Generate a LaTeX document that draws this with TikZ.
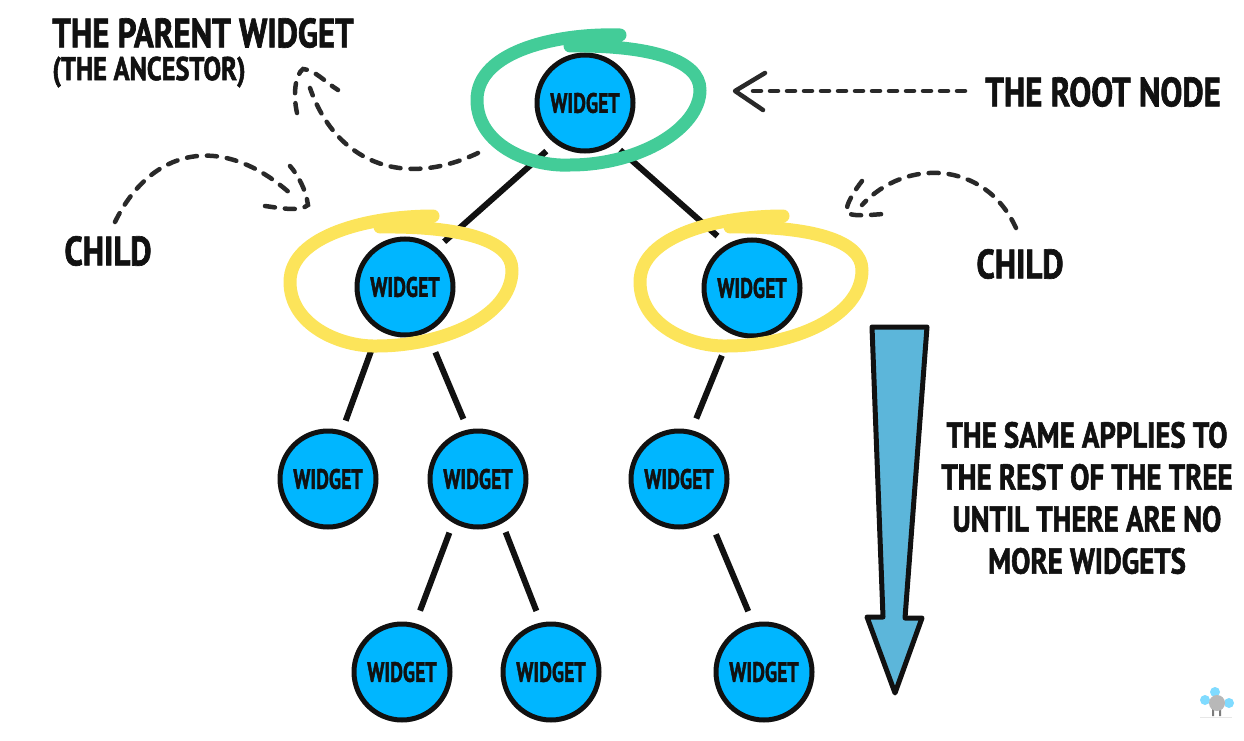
\documentclass[tikz,border=0pt]{standalone}
\usepackage{fontspec}
\setmainfont{PT Sans}
\newfontfamily\handfont[FakeStretch=0.8,BoldFeatures={FakeBold=1.6}]{PT Sans}
\newfontfamily\widgetfont[FakeStretch=0.71,BoldFeatures={FakeBold=1.4}]{PT Sans}
\usetikzlibrary{arrows.meta}

\definecolor{widgetblue}{HTML}{00B6FF}
\definecolor{ringgreen}{HTML}{43CC98}
\definecolor{ringyellow}{HTML}{FCE45A}
\definecolor{arrowblue}{HTML}{5CB6DA}
\definecolor{inkblack}{HTML}{111111}

\begin{document}
\begin{tikzpicture}[x=1pt,y=-1pt,
              widget/.style={circle,draw=inkblack,line width=5pt,fill=widgetblue,
              minimum size=96pt,inner sep=0pt,outer sep=0pt,text=inkblack,
              font=\widgetfont\bfseries\fontsize{28}{28}\selectfont},
              label/.style={text=inkblack,inner sep=0pt,align=center,
              font=\handfont\bfseries\fontsize{41}{42}\selectfont},
              small label/.style={label,font=\handfont\bfseries\fontsize{33}{33}\selectfont},
              branch/.style={draw=inkblack,line width=6pt},
              pointer/.style={draw=inkblack!90,line width=4.5pt,line cap=round,
              dash pattern=on 10pt off 10pt},
              tipline/.style={draw=inkblack!90,line width=4.5pt,line cap=round,line join=round},
              ring/.style={line width=13pt,line cap=round,line join=round}]
    \useasboundingbox (0,0) rectangle (1244,741);

    \node[widget] (root) at (585,103) {WIDGET};
    \node[widget] (left) at (405,287) {WIDGET};
    \node[widget] (right) at (752,288) {WIDGET};
    \node[widget] (leftA) at (328,479) {WIDGET};
    \node[widget] (leftB) at (478,479) {WIDGET};
    \node[widget] (rightA) at (679,479) {WIDGET};
    \node[widget] (leafA) at (402,672) {WIDGET};
    \node[widget] (leafB) at (551,672) {WIDGET};
    \node[widget] (leafC) at (764,672) {WIDGET};

    \node[label] (parent) at (203,33) {THE PARENT WIDGET};
    \node[small label] (ancestor) at (149,72) {(THE ANCESTOR)};
    \node[label] (rootnote) at (1103,92) {THE ROOT NODE};
    \node[label] (childL) at (108,251) {CHILD};
    \node[label] (childR) at (1020,264) {CHILD};
    \node[small label,font=\handfont\bfseries\fontsize{36}{42}\selectfont] (rest) at (1087,498)
        {THE SAME APPLIES TO\\THE REST OF THE TREE\\UNTIL THERE ARE NO\\MORE WIDGETS};

    % branches
    \draw[branch,shorten <=14pt,shorten >=12pt] (root.234) -- (left.51);
    \draw[branch,shorten <=11pt,shorten >=15pt] (root.304) -- (right.119);
    \draw[branch,shorten <=14pt,shorten >=13pt] (left.238) -- (leftA.74);
    \draw[branch,shorten <=24pt,shorten >=14pt] (left.296) -- (leftB.101);
    \draw[branch,shorten <=26pt,shorten >=15pt] (right.245) -- (rightA.76);
    \draw[branch,shorten <=13pt,shorten >=16pt] (leftB.240) -- (leafA.75);
    \draw[branch,shorten <=12pt,shorten >=15pt] (leftB.299) -- (leafB.101);
    \draw[branch,shorten <=19pt,shorten >=15pt] (rightA.308) -- (leafC.102);

    % rings
    \draw[ring,ringgreen] (620,35) .. controls (560,33) and (477,50) .. (477,100)
        .. controls (477,145) and (530,167) .. (570,165)
        .. controls (640,165) and (700,128) .. (700,90)
        .. controls (700,60) and (650,45) .. (570,46);
    \foreach \ringx in {0,-350}
        \draw[ring,ringyellow,xshift=\ringx] (783,216) .. controls (720,216) and (640,235) .. (640,282)
            .. controls (640,325) and (690,347) .. (727,346)
            .. controls (790,346) and (862,318) .. (862,270)
            .. controls (862,240) and (810,226) .. (730,227);

    % pointers
    \coordinate (parentstart) at (478,153);
    \coordinate (parenttip) at (310,88);
    \draw[pointer] (parentstart) .. controls (400,190) and (335,160) .. (parenttip);
    \draw[pointer] (297,113) .. controls (293,95) and (295,75) .. (303,69) .. controls (315,70) and (325,82) .. (338,90);

    \coordinate (childLstart) at (115,222);
    \coordinate (childLtip) at (292,195);
    \draw[pointer] (childLstart) .. controls (150,150) and (220,130) .. (childLtip);
    \draw[pointer] (265,206) .. controls (280,208) and (300,212) .. (308,205) .. controls (306,190) and (298,175) .. (290,166);

    \coordinate (childRstart) at (1016,228);
    \coordinate (childRtip) at (862,205);
    \draw[pointer] (childRstart) .. controls (985,160) and (905,158) .. (childRtip);
    \draw[pointer] (862,181) .. controls (855,190) and (845,205) .. (847,212) .. controls (850,217) and (870,215) .. (883,214);

    \coordinate (rootstart) at (965,91);
    \coordinate (roottip) at (753,91);
    \draw[pointer,dash pattern=on 8pt off 9pt] (rootstart) -- (roottip);
    \draw[tipline] (765,73) -- (735,91) -- (763,110);

    % big arrow
    \draw[draw=inkblack,fill=arrowblue,line width=5pt,line join=round]
        (872,327) -- (927,327) -- (905,618) -- (922,618) -- (895,693) -- (867,617) -- (883,617) -- cycle;

    % mascot
    \fill[inkblack!10] (1200,717) rectangle (1232,718);
    \fill[inkblack!55] (1212,709) rectangle (1214,716) (1219,709) rectangle (1221,716);
    \fill[widgetblue!50] (1205,700) circle (5pt) (1215,692) circle (5pt) (1229,703) circle (5pt);
    \fill[inkblack!30] (1217,703) circle (8pt);
\end{tikzpicture}
\end{document}
